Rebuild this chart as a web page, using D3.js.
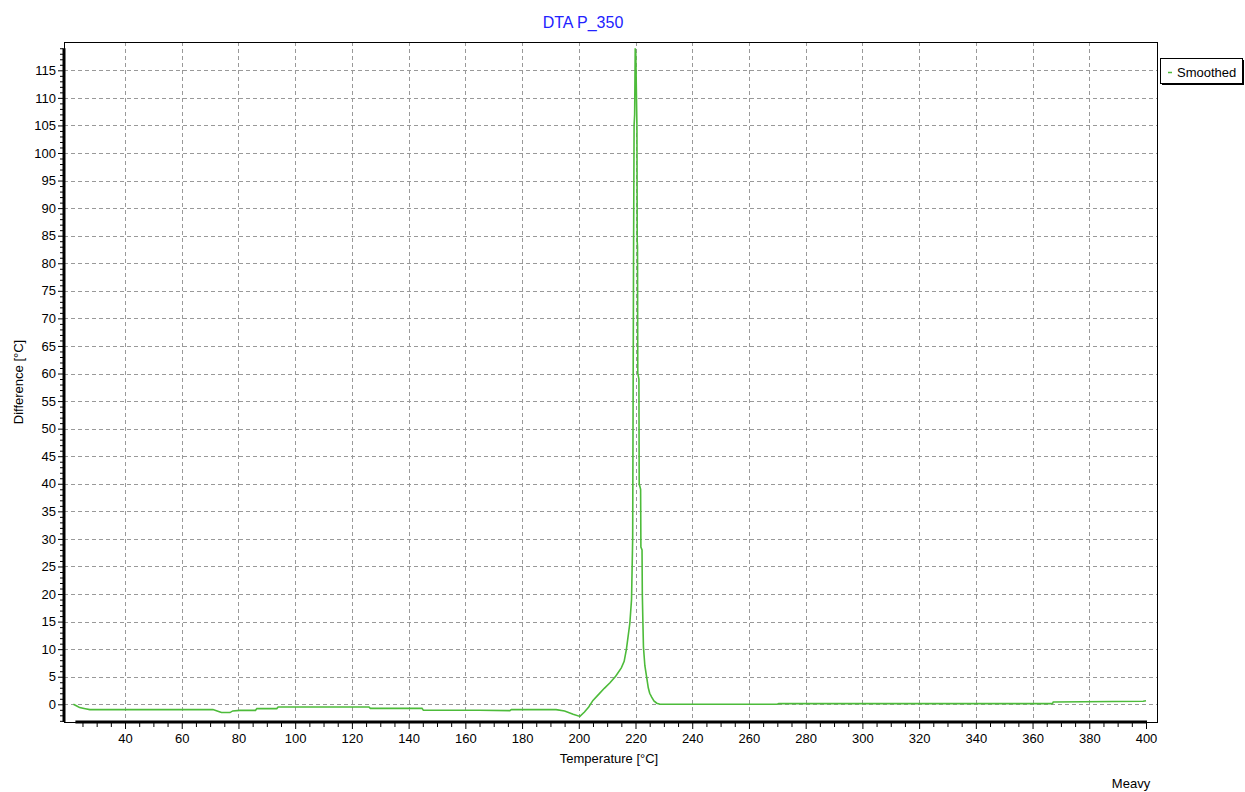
<!DOCTYPE html>
<html>
<head>
<meta charset="utf-8">
<script src="https://cdn.jsdelivr.net/npm/d3@7"></script>
<style>
  body { margin: 0; background: #fff; }
  text { font-family: "Liberation Sans", Arial, sans-serif; }
</style>
</head>
<body>
<div id="chart"></div>
<script>
const WIDTH = 1245;
const HEIGHT = 792;

// DTA curve
const temps = [21.8, 23, 24, 26, 27.6, 71, 73, 74, 77, 78, 80.5, 86, 86.5, 93.5, 94, 126, 126.5, 144.7, 145.2,
    165, 175.7, 176.2, 192, 195, 198, 200.4, 202, 203.5, 205, 207, 209, 211, 213, 215, 216, 216.8, 218, 218.6,
    219.0, 219.3, 219.5, 219.7, 219.9, 220.1, 220.5, 220.6, 220.7, 220.8, 221.2, 221.3, 221.8, 221.9, 222.3,
    222.4, 222.6, 222.8, 223.3, 223.9, 224.5, 225, 225.7, 226.5, 227.5, 228.6, 270, 270.5, 367, 367.3, 399, 400];
const diffs = [0, -0.3, -0.6, -0.8, -0.96, -0.96, -1.3, -1.5, -1.5, -1.2, -1.1, -1.1, -0.78, -0.78, -0.48, -0.48, -0.73, -0.73, -1.07,
    -1.07, -1.15, -0.96, -0.96, -1.2, -1.8, -2.2, -1.4, -0.5, 0.7, 1.8, 2.9, 3.9, 5.1, 6.6, 7.8, 10, 14.7, 19,
    30, 80, 105, 107, 119, 118, 105, 84, 83, 60, 59, 40, 39, 28.5, 28,
    20, 15, 10.4, 7, 5, 3, 2, 1.3, 0.6, 0.2, 0, 0, 0.12, 0.12, 0.42, 0.55, 0.65];

const xTicks = d3.range(40, 401, 20);
const yTicks = d3.range(0, 116, 5);
const seriesName = 'Smoothed';

const data = temps.map((t, i) => ({ t: t, v: diffs[i] }));

const plot = { left: 64, top: 42, right: 1157, bottom: 722 };
const lineColor = '#4dbb3a';

const svg = d3.select('#chart').append('svg')
    .attr('width', WIDTH)
    .attr('height', HEIGHT);

const x = d3.scaleLinear().domain([20, 400]).range([68.3, 1146]);
const y = d3.scaleLinear().domain([0, 115]).range([704.3, 70.3]);

// grid
const grid = svg.append('g').attr('stroke', '#999').attr('stroke-dasharray', '4,3');
grid.selectAll('.vg')
    .data(xTicks.filter(d => d < 400))
    .enter().append('line')
    .attr('x1', d => Math.round(x(d)) + 0.5)
    .attr('x2', d => Math.round(x(d)) + 0.5)
    .attr('y1', plot.top)
    .attr('y2', plot.bottom);
grid.selectAll('.hg')
    .data(yTicks)
    .enter().append('line')
    .attr('y1', d => Math.round(y(d)) + 0.5)
    .attr('y2', d => Math.round(y(d)) + 0.5)
    .attr('x1', plot.left)
    .attr('x2', plot.right);

// frame
svg.append('rect')
    .attr('x', plot.left + 0.5)
    .attr('y', plot.top + 0.5)
    .attr('width', plot.right - plot.left)
    .attr('height', plot.bottom - plot.top)
    .attr('fill', 'none')
    .attr('stroke', '#000');

// axes (thick line only over the data range)
const xExt = d3.extent(temps);
const yMax = d3.max(diffs);

svg.append('line')
    .attr('x1', x(xExt[0]) + 2).attr('x2', x(xExt[1]) + 1)
    .attr('y1', plot.bottom).attr('y2', plot.bottom)
    .attr('stroke', '#000').attr('stroke-width', 3);
svg.append('line')
    .attr('x1', plot.left).attr('x2', plot.left)
    .attr('y1', plot.bottom).attr('y2', y(yMax))
    .attr('stroke', '#000').attr('stroke-width', 3);

const xAxis = d3.axisBottom(x)
    .tickValues(d3.range(25, 401, 5))
    .tickSize(4)
    .tickFormat(d => xTicks.includes(d) ? d : '');
svg.append('g')
    .attr('transform', `translate(0,${plot.bottom})`)
    .call(xAxis)
    .call(g => g.select('.domain').remove())
    .call(g => g.selectAll('.tick line').attr('transform', 'translate(0,1)').attr('y2', d => xTicks.includes(d) ? 6 : 4))
    .call(g => g.selectAll('.tick text').attr('y', 12).attr('font-size', 13).attr('fill', '#000')
        .attr('font-family', '"Liberation Sans", Arial, sans-serif'));

const yAxis = d3.axisLeft(y)
    .tickValues(d3.range(-3, 120, 1))
    .tickSize(3)
    .tickFormat(d => yTicks.includes(d) ? d : '');
svg.append('g')
    .attr('transform', `translate(${plot.left - 1},0)`)
    .call(yAxis)
    .call(g => g.select('.domain').remove())
    .call(g => g.selectAll('.tick line').attr('x2', d => yTicks.includes(d) ? -5 : -3))
    .call(g => g.selectAll('.tick text').attr('x', -7).attr('font-size', 13).attr('fill', '#000')
        .attr('font-family', '"Liberation Sans", Arial, sans-serif'));

// curve
const line = d3.line().x(d => x(d.t)).y(d => y(d.v));
svg.append('path')
    .datum(data)
    .attr('fill', 'none')
    .attr('stroke', lineColor)
    .attr('stroke-width', 1.6)
    .attr('d', line);

// title and labels
svg.append('text')
    .attr('x', 583).attr('y', 28)
    .attr('text-anchor', 'middle')
    .attr('font-size', 16)
    .attr('fill', '#2222ff')
    .text('DTA P_350');

svg.append('text')
    .attr('x', 609).attr('y', 763)
    .attr('text-anchor', 'middle')
    .attr('font-size', 13)
    .text('Temperature [°C]');

svg.append('text')
    .attr('transform', 'translate(23,382) rotate(-90)')
    .attr('text-anchor', 'middle')
    .attr('font-size', 13)
    .text('Difference [°C]');

svg.append('text')
    .attr('x', 1131).attr('y', 788)
    .attr('text-anchor', 'middle')
    .attr('font-size', 13)
    .text('Meavy');

// legend
const legend = svg.append('g');
legend.append('rect')
    .attr('x', 1162).attr('y', 60).attr('width', 82).attr('height', 25)
    .attr('fill', '#000');
legend.append('rect')
    .attr('x', 1160.5).attr('y', 58.5).attr('width', 82).attr('height', 25)
    .attr('fill', '#fff').attr('stroke', '#000');
legend.append('line')
    .attr('x1', 1168).attr('x2', 1172).attr('y1', 72.5).attr('y2', 72.5)
    .attr('stroke', lineColor).attr('stroke-width', 1.5);
legend.append('text')
    .attr('x', 1177).attr('y', 77)
    .attr('font-size', 13)
    .text(seriesName);
</script>
</body>
</html>
